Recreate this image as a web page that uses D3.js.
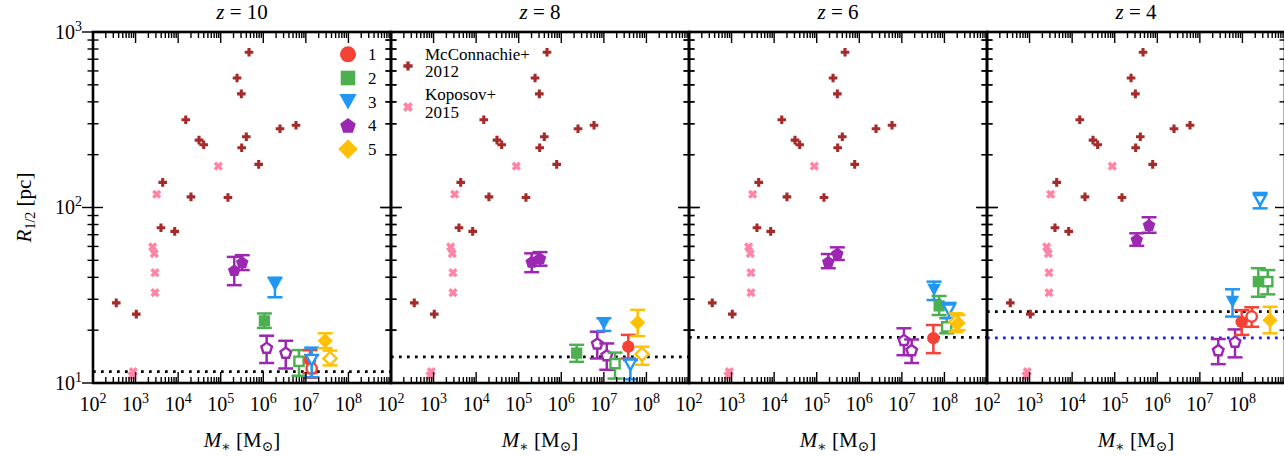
<!DOCTYPE html>
<html>
<head>
<meta charset="utf-8">
<script src="https://cdn.jsdelivr.net/npm/d3@7"></script>
<style>
  body { margin: 0; background: #fff; }
  svg { display: block; }
  text { font-family: "Liberation Serif", "DejaVu Serif", serif; fill: #000; }
</style>
</head>
<body>
<svg id="chart" width="1284" height="457"></svg>
<script>
// ---- data -------------------------------------------------------------
const redshifts = [10, 8, 6, 4];

const runLabels = ["1", "2", "3", "4", "5"];
const runColors = ["#f44336", "#4caf50", "#2196f3", "#9c27b0", "#ffc107"];
const runShapes = ["circle", "square", "triangleDown", "pentagon", "diamond"];

const massTickExps = [2, 3, 4, 5, 6, 7, 8];
const radiusTickExps = [1, 2, 3];

// Local Group dwarfs, McConnachie (2012): stellar mass [Msun], R1/2 [pc]
const mcconMass = [4.62e5, 2.42e5, 3.05e5, 1.51e4, 2.47e6, 5.87e6, 3.09e4, 3.98e4, 3.99e5,
                   3.11e5, 7.8e5, 4.34e3, 2.0e4, 1.48e5, 3.95e3, 8.3e3, 352, 1.04e3];
const mcconRadius = [766, 547, 444, 316, 281, 294, 242, 228, 253,
                     219, 176, 139, 115, 114, 76.7, 73.1, 28.6, 24.7];

// DES satellites, Koposov et al. (2015)
const koposovMass = [8.77e4, 3.13e3, 2.52e3, 2.75e3, 2.86e3, 2.86e3, 885, 824];
const koposovRadius = [172, 119, 59.6, 54.6, 42.5, 32.7, 11.6, 11.0];

// Simulated galaxies per redshift: [run, filled, M*, R1/2, R1/2 low, R1/2 high]
const simZ10 = [
  [4, 1, 2.08e5, 44.0, 36.1, 52.3],
  [4, 1, 3.2e5, 48.8, 44.0, 53.5],
  [3, 1, 1.88e6, 36.1, 30.8, 39.8],
  [2, 1, 1.06e6, 22.6, 20.6, 24.9],
  [4, 0, 1.2e6, 15.9, 13.0, 18.6],
  [4, 0, 3.37e6, 14.9, 12.1, 17.4],
  [2, 0, 6.9e6, 13.3, 11.0, 15.4],
  [1, 1, 1.25e7, 13.5, 11.4, 15.4],
  [1, 0, 1.37e7, 12.1, 10.7, 14.4],
  [3, 0, 1.37e7, 13.5, 10.8, 15.9],
  [5, 1, 2.84e7, 17.4, 15.8, 19.2],
  [5, 0, 3.69e7, 13.8, 12.6, 15.3]
];
const simZ8 = [
  [4, 1, 2.02e5, 49.1, 42.8, 54.8],
  [4, 1, 3.16e5, 51.4, 46.6, 55.7],
  [2, 1, 2.3e6, 14.8, 13.2, 16.5],
  [4, 0, 7.0e6, 16.8, 13.8, 19.6],
  [4, 0, 1.17e7, 14.4, 11.9, 16.8],
  [2, 0, 1.83e7, 12.9, 10.6, 14.9],
  [3, 1, 1.0e7, 21.7, 19.8, 23.4],
  [1, 1, 3.75e7, 16.1, 13.8, 18.8],
  [3, 0, 4.2e7, 12.7, 10.5, 13.5],
  [5, 1, 6.25e7, 22.1, 18.5, 26.1],
  [5, 0, 7.9e7, 14.6, 12.7, 16.1]
];
const simZ6 = [
  [4, 1, 1.87e5, 49.1, 45.1, 54.3],
  [4, 1, 3.05e5, 54.8, 50.2, 59.3],
  [4, 0, 1.12e7, 17.6, 14.4, 20.5],
  [4, 0, 1.7e7, 15.4, 13.0, 17.7],
  [1, 1, 5.5e7, 18.0, 14.8, 21.4],
  [3, 1, 5.7e7, 33.9, 29.7, 37.8],
  [2, 1, 7.5e7, 27.5, 24.4, 31.3],
  [2, 0, 1.13e8, 20.9, 19.2, 23.4],
  [3, 0, 1.28e8, 26.1, 23.5, 28.6],
  [5, 0, 1.87e8, 22.3, 19.5, 25.0],
  [5, 1, 2.1e8, 21.9, 20.0, 24.4]
];
const simZ4 = [
  [4, 1, 3.3e5, 65.9, 60.5, 71.3],
  [4, 1, 6.4e5, 79.5, 71.8, 88.0],
  [4, 0, 2.7e7, 15.4, 12.8, 17.8],
  [4, 0, 6.7e7, 17.2, 14.0, 20.2],
  [3, 1, 5.85e7, 29.0, 23.9, 34.2],
  [1, 1, 9.6e7, 22.3, 18.8, 26.0],
  [1, 0, 1.65e8, 23.9, 20.9, 27.0],
  [2, 1, 2.36e8, 37.8, 31.0, 45.1],
  [2, 0, 3.93e8, 37.8, 32.0, 44.0],
  [3, 0, 2.6e8, 110, 98.9, 121],
  [5, 1, 4.45e8, 22.8, 19.2, 27.2]
];
const simByPanel = [simZ10, simZ8, simZ6, simZ4];

// resolution limits (pc)
const limitBlack = [11.6, 14.1, 18.2, 25.5];
const limitBlue = [null, null, null, 18.1];

// ---- layout ------------------------------------------------------------
const panelLeft = 93, panelWidth = 298, plotTop = 32, plotBottom = 383;
const svg = d3.select("#chart");
svg.append("rect").attr("width", 1284).attr("height", 457).attr("fill", "#fff");

const y = d3.scaleLog().domain([10, 1000]).range([plotBottom, plotTop]);

// ---- marker shapes ------------------------------------------------------
function shapePath(type, r) {
  switch (type) {
    case "circle":
      return `M${r},0A${r},${r} 0 1,1 ${-r},0A${r},${r} 0 1,1 ${r},0Z`;
    case "square":
      return `M${-r},${-r}H${r}V${r}H${-r}Z`;
    case "triangleDown": {
      const h = r * 0.9;
      return `M${-r},${-h}L${r},${-h}L0,${h}Z`;
    }
    case "pentagon": {
      const pts = d3.range(5).map(k => {
        const a = -Math.PI / 2 + k * 2 * Math.PI / 5;
        return [r * Math.cos(a), r * Math.sin(a) + r * 0.1];
      });
      return "M" + pts.map(p => p.join(",")).join("L") + "Z";
    }
    case "diamond":
      return `M0,${-r}L${r},0L0,${r}L${-r},0Z`;
    case "plus": {
      const t = r * 0.36;
      return `M${-t},${-r}H${t}V${-t}H${r}V${t}H${t}V${r}H${-t}V${t}H${-r}V${-t}H${-t}Z`;
    }
  }
}
const dataSize = { circle: 6.2, square: 5.6, triangleDown: 6.8, pentagon: 6.6, diamond: 7.6 };
const legendSize = { circle: 8, square: 7.3, triangleDown: 8.6, pentagon: 8.2, diamond: 9.8 };

// helper: "10^k" label
function powerText(sel, exp) {
  sel.append("tspan").text("10");
  sel.append("tspan").attr("font-size", 14).attr("dy", -8).text(exp);
}

// ---- panels ------------------------------------------------------------
redshifts.forEach((z, i) => {
  const x0 = panelLeft + panelWidth * i;
  const x = d3.scaleLog().domain([1e2, 1e9]).range([x0, x0 + panelWidth]);
  const g = svg.append("g");

  // resolution limit lines
  const limits = [[limitBlack[i], "#000"], [limitBlue[i], "#1a1aff"]];
  limits.forEach(([v, c]) => {
    if (v == null) return;
    g.append("line")
      .attr("x1", x.range()[0]).attr("x2", x.range()[1])
      .attr("y1", y(v)).attr("y2", y(v))
      .attr("stroke", c).attr("stroke-width", 2.7)
      .attr("stroke-dasharray", "2.7 5.3");
  });

  // observed dwarfs
  g.selectAll(".mc").data(d3.zip(mcconMass, mcconRadius)).join("path")
    .attr("d", shapePath("plus", 4.3))
    .attr("transform", d => `translate(${x(d[0])},${y(d[1])})`)
    .attr("fill", "#a52a2a");
  g.selectAll(".kp").data(d3.zip(koposovMass, koposovRadius)).join("path")
    .attr("d", shapePath("plus", 4.8))
    .attr("transform", d => `translate(${x(d[0])},${y(d[1])}) rotate(45)`)
    .attr("fill", "#ff85a6");

  // simulated galaxies with error bars
  simByPanel[i].forEach(([run, filled, m, r, lo, hi]) => {
    const c = runColors[run - 1];
    const shape = runShapes[run - 1];
    const cx = x(m);
    const e = g.append("g").attr("stroke", c).attr("stroke-width", 2.5);
    e.append("line").attr("x1", cx).attr("x2", cx).attr("y1", y(lo)).attr("y2", y(hi));
    e.append("line").attr("x1", cx - 7.5).attr("x2", cx + 7.5).attr("y1", y(lo)).attr("y2", y(lo));
    e.append("line").attr("x1", cx - 7.5).attr("x2", cx + 7.5).attr("y1", y(hi)).attr("y2", y(hi));
    g.append("path")
      .attr("d", shapePath(shape, filled ? dataSize[shape] : dataSize[shape] - 1))
      .attr("transform", `translate(${cx},${y(r)})`)
      .attr("fill", filled ? c : "#fff")
      .attr("stroke", filled ? "none" : c)
      .attr("stroke-width", 2.4);
  });

  // ticks
  const ax = svg.append("g").attr("stroke", "#000");
  const decades = d3.range(2, 9);
  decades.forEach(d => {
    d3.range(1, 10).forEach(k => {
      const v = k * Math.pow(10, d);
      const len = k === 1 ? 11 : 6;
      const xx = x(v);
      ax.append("line").attr("x1", xx).attr("x2", xx)
        .attr("y1", plotBottom).attr("y2", plotBottom - len).attr("stroke-width", 1.4);
      ax.append("line").attr("x1", xx).attr("x2", xx)
        .attr("y1", plotTop).attr("y2", plotTop + len).attr("stroke-width", 1.4);
    });
  });
  [1, 2].forEach(d => {
    d3.range(1, 10).forEach(k => {
      const v = k * Math.pow(10, d);
      const yy = y(v);
      const inLen = k === 1 ? 10 : 5.5, outLen = k === 1 ? 11 : 5.5;
      [x.range()[0], x.range()[1]].forEach((edge, side) => {
        const dir = side === 0 ? 1 : -1;
        ax.append("line").attr("x1", edge - dir * outLen).attr("x2", edge + dir * inLen)
          .attr("y1", yy).attr("y2", yy).attr("stroke-width", 1.4);
      });
    });
  });
  const topMajor = y(1000);
  [x.range()[0], x.range()[1]].forEach(edge => {
    ax.append("line").attr("x1", edge - 11).attr("x2", edge + 11)
      .attr("y1", topMajor).attr("y2", topMajor).attr("stroke-width", 1.4);
  });

  // frame
  svg.append("rect")
    .attr("x", x.range()[0]).attr("y", plotTop)
    .attr("width", panelWidth).attr("height", plotBottom - plotTop)
    .attr("fill", "none").attr("stroke", "#000").attr("stroke-width", 2.6);

  // x tick labels
  massTickExps.forEach(e => {
    const t = svg.append("text")
      .attr("x", x(Math.pow(10, e))).attr("y", 411)
      .attr("text-anchor", "middle").attr("font-size", 20);
    powerText(t, e);
  });

  // x axis label
  const xl = svg.append("text").attr("x", x0 + panelWidth / 2).attr("y", 447)
    .attr("text-anchor", "middle").attr("font-size", 21);
  xl.append("tspan").attr("font-style", "italic").text("M");
  xl.append("tspan").attr("font-size", 14).attr("dy", 4).text("∗");
  xl.append("tspan").attr("dy", -4).text(" [M");
  xl.append("tspan").attr("font-size", 14).attr("dy", 4).text("⊙");
  xl.append("tspan").attr("dy", -4).text("]");

  // title
  const tt = svg.append("text").attr("x", x0 + panelWidth / 2).attr("y", 19)
    .attr("text-anchor", "middle").attr("font-size", 21);
  tt.append("tspan").attr("font-style", "italic").text("z");
  tt.append("tspan").text(" = " + z);

  // legends
  if (i === 0) {
    runLabels.forEach((lab, k) => {
      const ly = 54.3 + 23.7 * k, shape = runShapes[k];
      svg.append("path").attr("d", shapePath(shape, legendSize[shape]))
        .attr("transform", `translate(${x0 + 255},${ly})`)
        .attr("fill", runColors[k]);
      svg.append("text").attr("x", x0 + 275).attr("y", ly + 6)
        .attr("font-size", 17).text(lab);
    });
  }
  if (i === 1) {
    const lx = x0 + 17;
    svg.append("path").attr("d", shapePath("plus", 4.6))
      .attr("transform", `translate(${lx},66)`).attr("fill", "#a52a2a");
    svg.append("path").attr("d", shapePath("plus", 5.2))
      .attr("transform", `translate(${lx},107) rotate(45)`).attr("fill", "#ff85a6");
    [["McConnachie+", 60], ["2012", 77], ["Koposov+", 100], ["2015", 118]].forEach(([s, yy]) => {
      svg.append("text").attr("x", lx + 17).attr("y", yy).attr("font-size", 17).text(s);
    });
  }
});

// y tick labels (first panel only)
radiusTickExps.forEach(e => {
  const t = svg.append("text").attr("x", 82).attr("y", y(Math.pow(10, e)) + 6.5)
    .attr("text-anchor", "end").attr("font-size", 20);
  powerText(t, e);
});

// y axis label
const yl = svg.append("text")
  .attr("transform", `translate(31,${(plotTop + plotBottom) / 2}) rotate(-90)`)
  .attr("text-anchor", "middle").attr("font-size", 21);
yl.append("tspan").attr("font-style", "italic").text("R");
yl.append("tspan").attr("font-size", 14).attr("dy", 4).text("1/2");
yl.append("tspan").attr("dy", -4).text(" [pc]");
</script>
</body>
</html>
